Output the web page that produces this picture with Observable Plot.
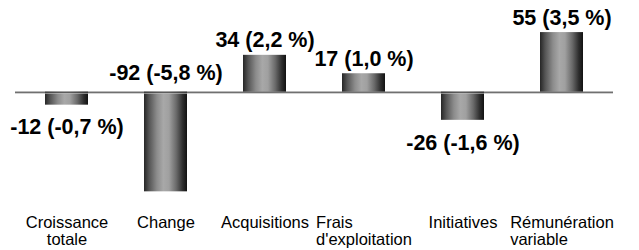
<!DOCTYPE html>
<html>
<head>
<meta charset="utf-8">
<script src="https://cdn.jsdelivr.net/npm/d3@7"></script>
<script src="https://cdn.jsdelivr.net/npm/@observablehq/plot@0.6"></script>
<style>
  html, body { margin: 0; padding: 0; background: #fff; }
  svg { display: block; }
</style>
</head>
<body>
<div id="chart"></div>
<script>
const categories = ["Croissance\ntotale", "Change", "Acquisitions", "Frais\nd'exploitation", "Initiatives", "Rémunération\nvariable"];
const values = [-12, -92, 34, 17, -26, 55];
const labels = ["-12 (-0,7 %)", "-92 (-5,8 %)", "34 (2,2 %)", "17 (1,0 %)", "-26 (-1,6 %)", "55 (3,5 %)"];

const data = categories.map((c, i) => ({cat: c, value: values[i], label: labels[i]}));
const pos = data.filter(d => d.value >= 0);
const negSmall = data.filter(d => d.value < 0 && d.value > -50);
const negBig = data.filter(d => d.value <= -50);

const font = "'Liberation Sans', Arial, Helvetica, sans-serif";
const lab = {fontSize: 21.5, fontWeight: "bold", fill: "#000"};

const plot = Plot.plot({
  width: 639,
  height: 250,
  marginLeft: 15,
  marginRight: 26,
  marginTop: 5,
  marginBottom: 50,
  style: {fontFamily: font, background: "#fff", color: "#000"},
  x: {domain: categories, paddingInner: 0.57, paddingOuter: 0.285, axis: null},
  y: {domain: [-100, 80], axis: null},
  marks: [
    Plot.barY(data, {x: "cat", y: "value", fill: "url(#cyl)"}),
    Plot.ruleY([0], {stroke: "#bbb", strokeWidth: 1, dy: 1}),
    Plot.ruleY([0], {stroke: "#333", strokeWidth: 1}),
    Plot.text(pos, {x: "cat", y: "value", text: "label", lineAnchor: "bottom", dy: -8, ...lab}),
    Plot.text(negSmall, {x: "cat", y: "value", text: "label", lineAnchor: "top", dy: 14, ...lab}),
    Plot.text(negBig, {x: "cat", y: 0, text: "label", lineAnchor: "bottom", dy: -12, ...lab}),
    Plot.axisX({anchor: "bottom", tickSize: 0, tickPadding: 15, fontSize: 16.5, lineHeight: 1.06, label: null, fill: "#000"})
  ]
});

const svg = d3.select(plot);
const defs = svg.insert("defs", ":first-child");
const grad = defs.append("linearGradient").attr("id", "cyl").attr("x1", 0).attr("x2", 1).attr("y1", 0).attr("y2", 0);
[[0, "#262626"], [0.12, "#555"], [0.3, "#8c8c8c"], [0.45, "#a8a8a8"], [0.58, "#a0a0a0"], [0.75, "#6a6a6a"], [0.9, "#2e2e2e"], [1, "#111"]]
  .forEach(([o, c]) => grad.append("stop").attr("offset", o).attr("stop-color", c));

document.getElementById("chart").appendChild(plot);

// Multi-line category labels that nearly fill their band: left-align the block on its widest line
const xScale = plot.scale("x");
svg.selectAll("text").each(function () {
  const tspans = this.querySelectorAll("tspan");
  if (tspans.length < 2) return;
  const maxW = d3.max(Array.from(tspans), t => t.getComputedTextLength());
  if (maxW <= 0.9 * xScale.step) return;
  const tr = this.getAttribute("transform") || "";
  const m = tr.match(/translate\(\s*([-\d.eE]+)[\s,]+([-\d.eE]+)\s*\)/);
  if (m) {
    this.setAttribute("transform", `translate(${+m[1] - maxW / 2},${m[2]})`);
  } else {
    const x = +(this.getAttribute("x") || 0);
    this.setAttribute("x", x - maxW / 2);
  }
  this.setAttribute("text-anchor", "start");
  this.style.textAnchor = "start";
});
</script>
</body>
</html>
